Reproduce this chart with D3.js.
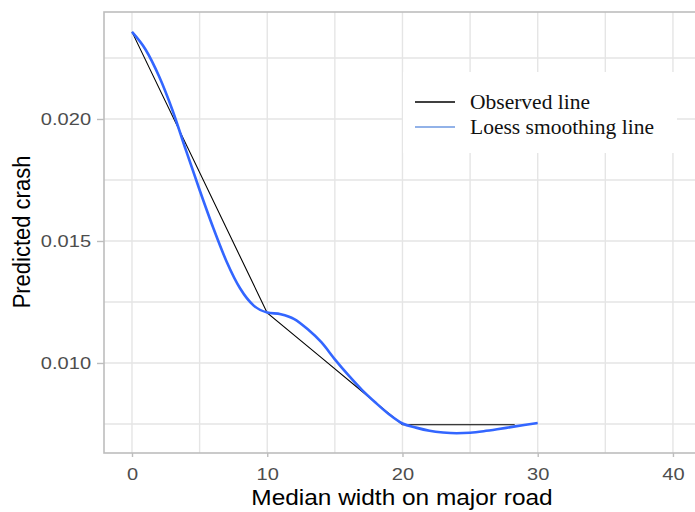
<!DOCTYPE html>
<html>
<head>
<meta charset="utf-8">
<script src="https://cdn.jsdelivr.net/npm/d3@7"></script>
<style>
  body { margin: 0; background: #fff; }
  svg { display: block; }
</style>
</head>
<body>
<svg id="chart" width="695" height="512"></svg>
<script>
// Median width (x) vs predicted crash (y)
const observedX = [0, 10, 14, 18, 20, 28.3];
const observedY = [0.02357, 0.01205, 0.01022, 0.00838, 0.00747, 0.00747];

const loessX = [0, 1, 2, 3, 4, 5, 6, 7, 8, 9, 10, 11, 12, 13, 14, 15, 16, 17, 18, 19, 20, 21, 22, 23, 24, 25, 26, 27, 28, 29, 30];
const loessY = [0.02357, 0.02285, 0.02175, 0.02035, 0.01870, 0.01709, 0.01555, 0.01415, 0.01305, 0.01235, 0.01207, 0.01200, 0.01180, 0.01138, 0.01085, 0.01015, 0.00950, 0.00890, 0.00838, 0.00790, 0.00752, 0.00735, 0.00722, 0.00715, 0.00712, 0.00714, 0.00720, 0.00728, 0.00737, 0.00746, 0.00754];

const xTicks = [0, 10, 20, 30, 40];
const xMinor = [5, 15, 25, 35];
const yTicks = [0.010, 0.015, 0.020];
const yMinor = [0.0075, 0.0125, 0.0175, 0.0225];
const legendLabels = ["Observed line", "Loess smoothing line"];

const svg = d3.select("#chart");
const panel = { left: 104, top: 12, right: 700, bottom: 453 };

const x = d3.scaleLinear().domain([-2.07, 42]).range([panel.left, panel.right]);
const y = d3.scaleLinear().domain([0.00631, 0.024385]).range([panel.bottom, panel.top]);

const gridColor = "#e5e5e5";
const grid = svg.append("g");
grid.selectAll(".vx").data(xMinor.concat(xTicks)).join("line")
  .attr("x1", d => x(d)).attr("x2", d => x(d))
  .attr("y1", panel.top).attr("y2", panel.bottom)
  .attr("stroke", gridColor).attr("stroke-width", 1.4);
grid.selectAll(".hy").data(yMinor.concat(yTicks)).join("line")
  .attr("x1", panel.left).attr("x2", panel.right)
  .attr("y1", d => y(d)).attr("y2", d => y(d))
  .attr("stroke", gridColor).attr("stroke-width", 1.4);

// Panel border
svg.append("rect")
  .attr("x", panel.left).attr("y", panel.top)
  .attr("width", panel.right - panel.left).attr("height", panel.bottom - panel.top)
  .attr("fill", "none").attr("stroke", "#bdbdbd").attr("stroke-width", 1.6);

// Axes
const tickFont = "'Liberation Sans', Arial, sans-serif";
const xAxis = svg.append("g").attr("transform", `translate(0,${panel.bottom})`)
  .call(d3.axisBottom(x).tickValues(xTicks).tickFormat(d3.format("d")).tickSize(4).tickPadding(11));
const yAxis = svg.append("g").attr("transform", `translate(${panel.left},0)`)
  .call(d3.axisLeft(y).tickValues(yTicks).tickFormat(d3.format(".3f")).tickSize(7).tickPadding(4));
[xAxis, yAxis].forEach(a => {
  a.select(".domain").remove();
  a.selectAll(".tick line").attr("stroke", "#bdbdbd").attr("stroke-width", 1.4);
  a.selectAll(".tick text")
    .attr("fill", "#4d4d4d")
    .style("font-family", tickFont)
    .style("font-size", "17px")
    .attr("transform", "scale(1.18,1)");
});

// Lines
const line = d3.line().x(d => x(d[0])).y(d => y(d[1]));
svg.append("path")
  .datum(observedX.map((v, i) => [v, observedY[i]]))
  .attr("d", line)
  .attr("fill", "none").attr("stroke", "#000").attr("stroke-width", 1.1);
svg.append("path")
  .datum(loessX.map((v, i) => [v, loessY[i]]))
  .attr("d", line.curve(d3.curveMonotoneX))
  .attr("fill", "none").attr("stroke", "#3366FF").attr("stroke-width", 2.6)
  .attr("stroke-linejoin", "round");

// Axis titles
svg.append("text")
  .attr("transform", "translate(402,505) scale(1.11,1)")
  .attr("text-anchor", "middle")
  .style("font-family", tickFont).style("font-size", "22px").attr("fill", "#000")
  .text("Median width on major road");
svg.append("text")
  .attr("transform", "translate(30,232) scale(1.1,1) rotate(-90)")
  .attr("text-anchor", "middle")
  .style("font-family", tickFont).style("font-size", "22px").attr("fill", "#000")
  .text("Predicted crash");

// Legend
const legend = svg.append("g");
legend.append("rect").attr("x", 403).attr("y", 72).attr("width", 274).attr("height", 81).attr("fill", "#fff");
const legendColors = ["#000", "#6e98e0"];
legendLabels.forEach((lab, i) => {
  const cy = 102 + i * 25;
  legend.append("line").attr("x1", 415).attr("x2", 455).attr("y1", cy).attr("y2", cy)
    .attr("stroke", legendColors[i]).attr("stroke-width", 1.4);
  legend.append("text").attr("x", 470).attr("y", cy + 7)
    .style("font-family", "'Liberation Serif', 'Times New Roman', serif").style("font-size", "21.5px")
    .attr("fill", "#111").text(lab);
});
</script>
</body>
</html>
